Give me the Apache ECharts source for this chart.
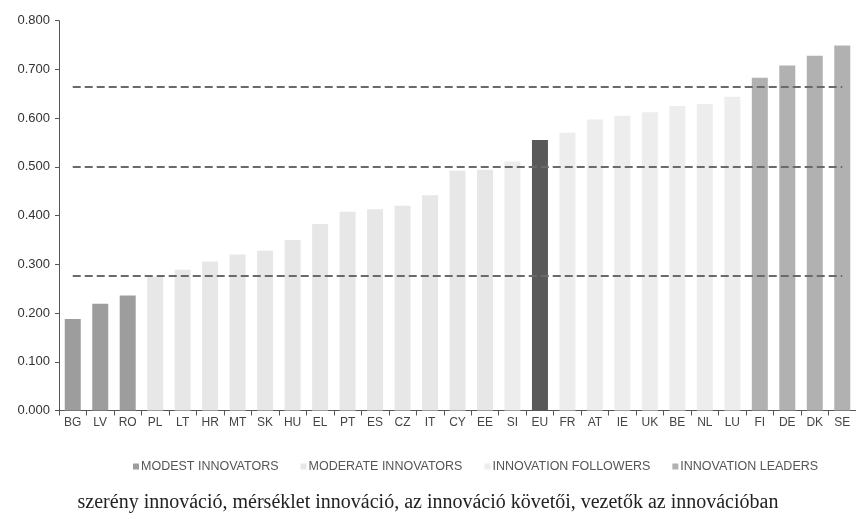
<!DOCTYPE html>
<html>
<head>
<meta charset="utf-8">
<script src="https://cdn.jsdelivr.net/npm/echarts@6/dist/echarts.min.js"></script>
<style>html,body{margin:0;padding:0;background:#fff;}#c{width:856px;height:519px;}</style>
</head>
<body>
<div id="c"></div>
<script>
const categories = ['BG','LV','RO','PL','LT','HR','MT','SK','HU','EL','PT','ES','CZ','IT','CY','EE','SI','EU','FR','AT','IE','UK','BE','NL','LU','FI','DE','DK','SE'];
const modest = { BG: 0.188, LV: 0.219, RO: 0.236 };
const moderate = { PL: 0.275, LT: 0.289, HR: 0.306, MT: 0.320, SK: 0.328, HU: 0.350, EL: 0.383, PT: 0.408, ES: 0.413, CZ: 0.420, IT: 0.442, CY: 0.492, EE: 0.494 };
const followers = { SI: 0.511, FR: 0.570, AT: 0.597, IE: 0.605, UK: 0.612, BE: 0.625, NL: 0.629, LU: 0.644 };
const leaders = { FI: 0.683, DE: 0.708, DK: 0.728, SE: 0.749 };
const euAverage = { EU: 0.555 };
const thresholds = [0.665, 0.500, 0.277];
const yTicks = [0, 0.1, 0.2, 0.3, 0.4, 0.5, 0.6, 0.7, 0.8];
const legendNames = ['MODEST INNOVATORS', 'MODERATE INNOVATORS', 'INNOVATION FOLLOWERS', 'INNOVATION LEADERS'];
const caption = 'szerény innováció, mérséklet innováció, az innováció követői, vezetők az innovációban';

const toSeries = g => categories.map(c => (c in g ? g[c] : null));

const chart = echarts.init(document.getElementById('c'), null, { renderer: 'canvas' });
const groups = [
  { name: legendNames[0], data: modest, color: '#9d9d9d' },
  { name: legendNames[1], data: moderate, color: '#e7e7e7' },
  { name: legendNames[2], data: followers, color: '#ededed' },
  { name: legendNames[3], data: leaders, color: '#b1b1b1' },
  { name: 'EU', data: euAverage, color: '#595959' }
];
const series = groups.map((g, i) => ({
  name: g.name,
  type: 'bar',
  stack: 'all',
  barWidth: 16,
  data: toSeries(g.data),
  itemStyle: { color: g.color },
  silent: true
}));
series[0].markLine = {
  silent: true,
  symbol: 'none',
  label: { show: false },
  lineStyle: { color: '#6a6a6a', width: 2, type: [8, 4] },
  data: thresholds.map(t => [{ coord: [categories[0], t] }, { coord: [categories[categories.length - 1], t] }])
};

chart.setOption({
  animation: false,
  backgroundColor: '#fff',
  title: {
    text: caption,
    left: 'center',
    top: 488,
    textStyle: { fontFamily: 'Liberation Serif', fontSize: 20, fontWeight: 'normal', color: '#222' }
  },
  legend: {
    data: legendNames,
    top: 455,
    left: 128,
    itemWidth: 6,
    itemHeight: 6,
    itemGap: 22,
    icon: 'rect',
    textStyle: { fontFamily: 'Liberation Sans', fontSize: 12.5, color: '#555', padding: [0, 0, 0, -3] }
  },
  grid: { left: 59, right: -12, top: 20.7, bottom: 108.5, containLabel: false },
  xAxis: {
    type: 'category',
    data: categories,
    axisLine: { lineStyle: { color: '#555', width: 1 } },
    axisTick: { show: true, length: 5, lineStyle: { color: '#555' } },
    axisLabel: { fontFamily: 'Liberation Sans', fontSize: 12, color: '#444', margin: 6, interval: 0 }
  },
  yAxis: {
    type: 'value',
    min: yTicks[0],
    max: yTicks[yTicks.length - 1],
    interval: 0.1,
    splitLine: { show: false },
    axisLine: { show: true, lineStyle: { color: '#555', width: 1 } },
    axisTick: { show: true, length: 4, lineStyle: { color: '#555' } },
    axisLabel: { fontFamily: 'Liberation Sans', fontSize: 13, color: '#333', margin: 9, formatter: v => v.toFixed(3) }
  },
  series: series
});
</script>
</body>
</html>
